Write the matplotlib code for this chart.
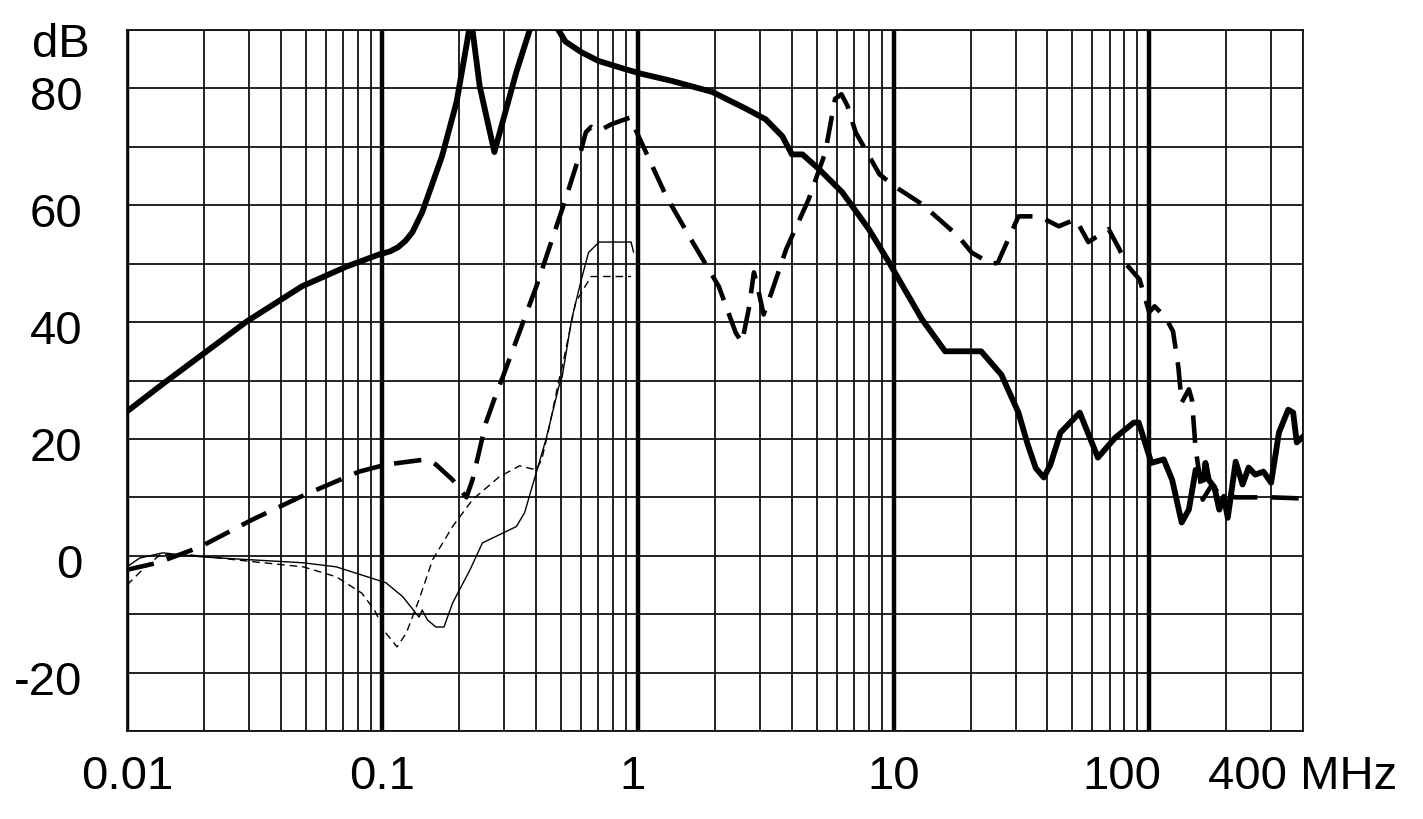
import matplotlib.pyplot as plt
from matplotlib.ticker import FixedLocator, FixedFormatter
import matplotlib.transforms as mtransforms

plt.rcParams['font.family'] = ['Liberation Sans', 'DejaVu Sans']

# Толста суцільна крива
thickSolidF = [0.01, 0.0138, 0.0294, 0.0483, 0.0723, 0.0973, 0.107, 0.115, 0.123, 0.131,
               0.143, 0.171, 0.195, 0.213, 0.222, 0.24, 0.274, 0.334, 0.38, 0.43,
               0.48, 0.52, 0.60, 0.70, 0.89, 1.03, 1.35, 1.95, 2.65, 3.16,
               3.67, 4.0, 4.4, 5.1, 6.3, 8.0, 9.6, 12.9, 15.9, 22,
               26.4, 30.8, 33.5, 36, 38.7, 41, 45.0, 53.5, 63, 73.6,
               87, 91, 102, 114, 123, 134, 143, 152, 163, 166,
               171, 180, 188, 196, 203, 218, 232, 245, 260, 280,
               300, 322, 350, 366, 378, 400]
thickSolidDb = [24.7, 29.4, 40.1, 46.1, 49.5, 51.6, 52.1, 52.8, 53.9, 55.4,
                58.8, 68.4, 77.7, 87.3, 92, 80.4, 69.1, 82.8, 90.5, 95,
                90.5, 88, 86.2, 84.7, 83.3, 82.5, 81.3, 79.4, 76.5, 74.7,
                71.8, 68.7, 68.7, 66.2, 62.2, 55.9, 50.2, 40.5, 35, 35,
                31, 24.5, 19, 15, 13.4, 15.5, 21.1, 24.5, 16.8, 20.2,
                22.8, 22.8, 15.9, 16.5, 13, 5.7, 7.9, 14.7, 13, 15.9,
                13, 11.7, 7.9, 10.1, 6.5, 16.1, 12.2, 15.1, 13.9, 14.4,
                12.5, 21.1, 25, 24.5, 19.4, 20.4]

# Толста штрихова крива
thickDashF = [0.01, 0.0132, 0.0193, 0.031, 0.050, 0.081, 0.103, 0.148, 0.162, 0.188,
              0.213, 0.225, 0.254, 0.28, 0.295, 0.40, 0.52, 0.60, 0.625, 0.655,
              0.70, 0.79, 0.93, 1.06, 1.29, 1.63, 2.07, 2.41, 2.55, 2.71,
              2.84, 2.91, 3.1, 3.33, 3.8, 4.65, 5.4, 5.9, 6.25, 6.6,
              7.1, 8.8, 10.2, 12.9, 17.9, 20.2, 24.2, 25.6, 28.1, 30.8,
              37.1, 44.3, 51.6, 57.8, 69.4, 76.4, 81.4, 91.7, 100, 105,
              116, 124, 130, 134, 143, 147, 152, 157, 162, 175,
              190, 218, 300, 350, 400]
thickDashDb = [-2.4, -1.2, 1.5, 6.2, 10.5, 14.4, 15.6, 16.5, 15.6, 13,
               10, 13, 22.8, 28, 30.5, 46.1, 61, 69.6, 72.5, 73.4,
               72.7, 73.9, 75, 69.6, 61.5, 53.8, 46.1, 38.2, 36.5, 42.2,
               48.5, 46.8, 41.3, 45.1, 52.5, 61, 69, 78.2, 79, 77,
               72.5, 65.3, 63.1, 60.2, 54.7, 51.9, 49.9, 50.2, 54.2, 58.1,
               58.1, 56.4, 57.6, 53.7, 55.9, 52.5, 49.9, 47.3, 41.7, 42.7,
               40.8, 38.4, 32.4, 26.2, 28.5, 26.7, 18.2, 14.2, 9.6, 12,
               10.5, 10, 10, 9.9, 9.8]

# Тонка суцільна крива
thinSolidF = [0.01, 0.0112, 0.0138, 0.0198, 0.031, 0.049, 0.066, 0.083, 0.103, 0.12,
              0.139, 0.143, 0.15, 0.162, 0.174, 0.188, 0.22, 0.246, 0.334, 0.36,
              0.385, 0.436, 0.49, 0.505, 0.55, 0.60, 0.64, 0.704, 0.939, 0.96]
thinSolidDb = [-1.9, -0.4, 0.5, -0.2, -0.7, -1.2, -1.9, -3.3, -4.6, -7.0,
               -10.5, -9.3, -11, -12.2, -12.2, -8.1, -2.4, 2.2, 5.0, 7.4,
               11.8, 19.9, 29, 30.7, 40.5, 47.3, 51.9, 53.7, 53.7, 52]

# Тонка штрихова крива
thinDashF = [0.01, 0.0115, 0.0135, 0.0172, 0.031, 0.049, 0.066, 0.083, 0.093, 0.103,
             0.114, 0.124, 0.139, 0.157, 0.188, 0.225, 0.286, 0.344, 0.40, 0.42,
             0.447, 0.49, 0.505, 0.57, 0.655, 0.939]
thinDashDb = [-5, -2.4, 0.2, 0.2, -1, -1.9, -3.6, -6.4, -9.3, -13.2,
              -15.6, -13.2, -7.5, -0.7, 5, 9.6, 13.5, 15.4, 14.7, 16.5,
              21.6, 30, 32.4, 43.4, 47.8, 47.8]

decadeTicks = [0.01, 0.1, 1, 10, 100]
decadeLabels = ["0.01", "0.1", "1", "10", "100"]
minorTicks = [m * d for d in [0.01, 0.1, 1, 10] for m in range(2, 10)] + [200, 300, 400]
yTicks = [-20, 0, 20, 40, 60, 80]
yGrid = list(range(-30, 91, 10))

fig = plt.figure(figsize=(14.23, 8.19), dpi=100)
ax = fig.add_axes([0.0892, 0.1074, 0.8265, 0.856])

ax.plot(thickSolidF, thickSolidDb, color='black', lw=4.2, solid_joinstyle='round', zorder=5)
ax.plot(thickDashF, thickDashDb, color='black', lw=3.3, dashes=(6.0, 3.0), zorder=4)
ax.plot(thinSolidF, thinSolidDb, color='black', lw=1.0, zorder=4)
ax.plot(thinDashF, thinDashDb, color='black', lw=1.0, dashes=(5.5, 3.5), zorder=4)

ax.set_xscale('log')
ax.set_xlim(0.01, 400)
ax.set_ylim(-30, 90)

# Сітка
for x in decadeTicks:
    ax.axvline(x, color='black', lw=3.2, zorder=1)
for x in minorTicks:
    ax.axvline(x, color='#111111', lw=1.3, zorder=1)
for y in yGrid:
    ax.axhline(y, color='#111111', lw=1.3, zorder=1)

ax.xaxis.set_major_locator(FixedLocator(decadeTicks))
ax.xaxis.set_major_formatter(FixedFormatter(decadeLabels))
ax.xaxis.set_minor_locator(FixedLocator([400]))
ax.xaxis.set_minor_formatter(FixedFormatter(["400 MHz"]))
ax.set_yticks(yTicks)
ax.set_yticklabels([str(v) for v in yTicks])

ax.tick_params(axis='both', which='both', length=0, labelsize=34)
ax.tick_params(axis='x', which='both', pad=17)
ax.tick_params(axis='y', pad=32)

# Зсув підписів: "100" ліворуч, осі Y трохи нижче
for lbl in ax.xaxis.get_majorticklabels():
    if lbl.get_text() == "100":
        lbl.set_transform(lbl.get_transform() + mtransforms.ScaledTranslation(-0.27, 0, fig.dpi_scale_trans))
    if lbl.get_text() == "1":
        lbl.set_transform(lbl.get_transform() + mtransforms.ScaledTranslation(-0.06, 0, fig.dpi_scale_trans))
for lbl in ax.yaxis.get_majorticklabels():
    lbl.set_transform(lbl.get_transform() + mtransforms.ScaledTranslation(0, -0.05, fig.dpi_scale_trans))

ax.text(-0.032, 88.3, "dB", transform=mtransforms.blended_transform_factory(ax.transAxes, ax.transData),
        ha='right', va='center_baseline', fontsize=34)

for s in ax.spines.values():
    s.set_linewidth(1.3)
    s.set_color('#111111')

fig.savefig("out.png", dpi=100)
